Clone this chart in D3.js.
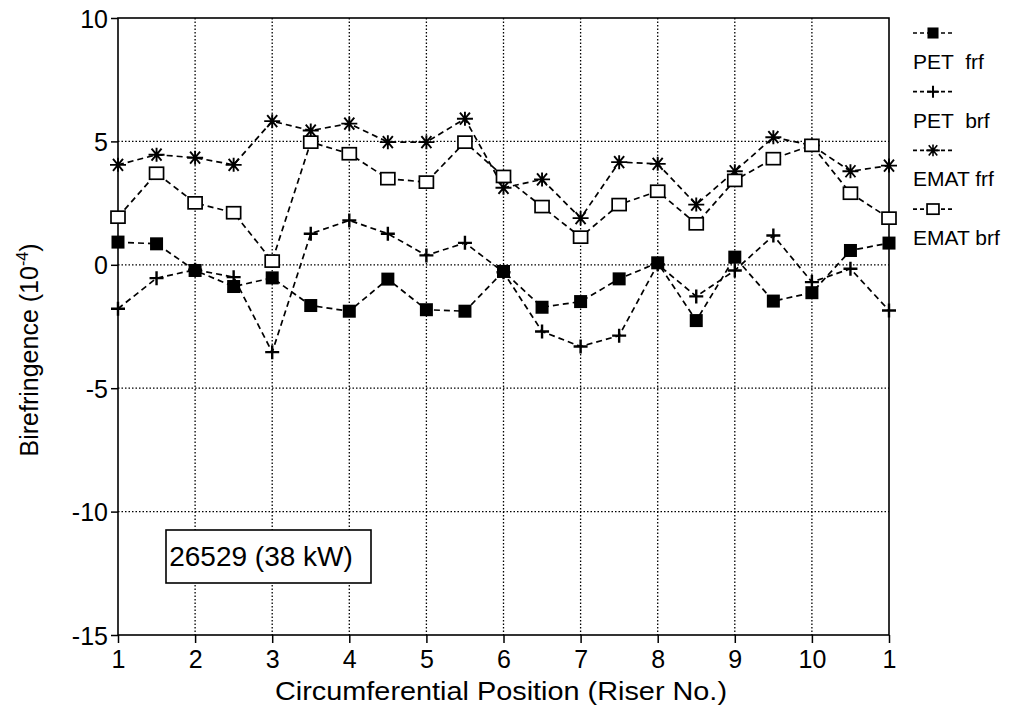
<!DOCTYPE html>
<html>
<head>
<meta charset="utf-8">
<script src="https://cdn.jsdelivr.net/npm/d3@7"></script>
<style>
  body { margin: 0; background: #fff; }
  text { font-family: "Liberation Sans", Arial, sans-serif; fill: #000; }
</style>
</head>
<body>
<script>
// positions go round the ring: 1, 1.5, 2 ... 10, 10.5, back to 1
var positions = [1, 1.5, 2, 2.5, 3, 3.5, 4, 4.5, 5, 5.5, 6, 6.5, 7, 7.5, 8, 8.5, 9, 9.5, 10, 10.5, 11];
var xTickLabels = ["1", "2", "3", "4", "5", "6", "7", "8", "9", "10", "1"];
var yTicks = [-15, -10, -5, 0, 5, 10];

var petFrf  = [0.92, 0.85, -0.23, -0.88, -0.53, -1.65, -1.88, -0.58, -1.82, -1.88, -0.27, -1.72, -1.49, -0.57, 0.08, -2.26, 0.31, -1.47, -1.13, 0.58, 0.88];
var petBrf  = [-1.78, -0.54, -0.2, -0.5, -3.54, 1.26, 1.80, 1.26, 0.38, 0.89, -0.3, -2.70, -3.31, -2.87, 0.02, -1.28, -0.23, 1.19, -0.7, -0.16, -1.85];
var ematFrf = [4.05, 4.46, 4.34, 4.05, 5.82, 5.44, 5.72, 4.97, 4.97, 5.92, 3.12, 3.46, 1.89, 4.16, 4.09, 2.44, 3.79, 5.17, 4.84, 3.79, 4.02];
var ematBrf = [1.93, 3.71, 2.51, 2.11, 0.15, 4.97, 4.5, 3.49, 3.35, 4.97, 3.58, 2.36, 1.12, 2.44, 2.98, 1.66, 3.42, 4.30, 4.84, 2.9, 1.89];

var seriesNames = ["PET  frf", "PET  brf", "EMAT frf", "EMAT brf"];
var seriesMarks = ["fsquare", "plus", "star", "osquare"];

var series = [petFrf, petBrf, ematFrf, ematBrf].map(function (vals, k) {
    return { name: seriesNames[k], mark: seriesMarks[k], values: vals };
});

var svg = d3.select("body").append("svg")
    .attr("width", 1010).attr("height", 715);

var x = d3.scaleLinear().domain([1, 11]).range([118, 889]);
var y = d3.scaleLinear().domain([-15, 10]).range([635, 18]);

// grid
var grid = svg.append("g");
grid.selectAll("line.vg")
    .data(d3.range(2, 11))
    .enter().append("line")
    .attr("x1", function (d) { return x(d); }).attr("x2", function (d) { return x(d); })
    .attr("y1", y(10)).attr("y2", y(-15))
    .attr("stroke", "#000").attr("stroke-width", 1.3)
    .attr("stroke-dasharray", "1.5,2");
grid.selectAll("line.hg")
    .data([-10, -5, 0, 5])
    .enter().append("line")
    .attr("x1", x(1)).attr("x2", x(11))
    .attr("y1", function (d) { return y(d); }).attr("y2", function (d) { return y(d); })
    .attr("stroke", "#000").attr("stroke-width", 1.3)
    .attr("stroke-dasharray", "1.5,2");

// frame
svg.append("rect")
    .attr("x", x(1)).attr("y", y(10))
    .attr("width", x(11) - x(1)).attr("height", y(-15) - y(10))
    .attr("fill", "none").attr("stroke", "#000").attr("stroke-width", 1.6);

// axes
var yAxis = d3.axisLeft(y).tickValues(yTicks).tickSize(7).tickPadding(3)
    .tickFormat(function (d) { return String(d); });
var gy = svg.append("g").attr("transform", "translate(" + x(1) + ",0)").call(yAxis);
gy.select(".domain").remove();
gy.selectAll("text").style("font-size", "25px").attr("dy", "0.36em");
gy.selectAll("line").attr("stroke-width", 1.5);

var xAxis = d3.axisBottom(x).tickValues(d3.range(1, 12)).tickSize(8).tickPadding(7)
    .tickFormat(function (d, i) { return xTickLabels[i]; });
var gx = svg.append("g").attr("transform", "translate(0," + y(-15) + ")").call(xAxis);
gx.select(".domain").remove();
gx.selectAll("text").style("font-size", "25px");
gx.selectAll("line").attr("stroke-width", 1.5);

// titles
svg.append("text")
    .attr("x", 501).attr("y", 700)
    .attr("text-anchor", "middle").style("font-size", "25px")
    .attr("textLength", 452).attr("lengthAdjust", "spacingAndGlyphs")
    .text("Circumferential Position (Riser No.)");

var yt = svg.append("text")
    .attr("transform", "translate(38,350) rotate(-90)")
    .attr("text-anchor", "middle").style("font-size", "25px");
yt.append("tspan").text("Birefringence (10");
yt.append("tspan").attr("dy", -10).style("font-size", "16px").text("-4");
yt.append("tspan").attr("dy", 10).text(")");

// markers
function drawMark(g, type, sc) {
    sc = sc || 1;
    if (type === "fsquare") {
        g.append("rect").attr("x", -6.5 * sc).attr("y", -6.5 * sc).attr("width", 13 * sc).attr("height", 13 * sc).attr("fill", "#000");
    } else if (type === "osquare") {
        g.append("rect").attr("x", -7 * sc).attr("y", -6 * sc).attr("width", 14 * sc).attr("height", 12 * sc)
            .attr("fill", "#fff").attr("stroke", "#000").attr("stroke-width", 1.7);
    } else if (type === "plus") {
        g.append("path").attr("d", "M-7,0H7M0,-7V7").attr("transform", "scale(" + sc + ")")
            .attr("stroke", "#000").attr("stroke-width", 2.4);
    } else if (type === "star") {
        g.append("path").attr("d", "M-8,0H8M-5,-6L5,6M-5,6L5,-6M0,-7V7").attr("transform", "scale(" + sc + ")")
            .attr("stroke", "#000").attr("stroke-width", 1.9);
    }
}

var line = d3.line()
    .x(function (d, i) { return x(positions[i]); })
    .y(function (d) { return y(d); });

var sg = svg.selectAll("g.series")
    .data(series)
    .enter().append("g").attr("class", "series");

sg.append("path")
    .attr("d", function (d) { return line(d.values); })
    .attr("fill", "none").attr("stroke", "#000").attr("stroke-width", 1.7)
    .attr("stroke-dasharray", "6,4");

sg.each(function (s) {
    d3.select(this).selectAll("g.pt")
        .data(s.values)
        .enter().append("g")
        .attr("transform", function (d, i) { return "translate(" + x(positions[i]) + "," + y(d) + ")"; })
        .each(function () { drawMark(d3.select(this), s.mark); });
});

// legend
var lg = svg.selectAll("g.leg")
    .data(series)
    .enter().append("g")
    .attr("transform", function (d, i) { return "translate(913," + (33 + i * 58.7) + ")"; });
lg.append("line").attr("x1", 0).attr("x2", 40).attr("y1", 0).attr("y2", 0)
    .attr("stroke", "#000").attr("stroke-width", 1.7).attr("stroke-dasharray", "4,3");
lg.each(function (d) {
    var g = d3.select(this).append("g").attr("transform", "translate(20,0)");
    drawMark(g, d.mark, 0.85);
});
lg.append("text").attr("x", 0).attr("y", 36).style("font-size", "21px")
    .style("white-space", "pre").attr("xml:space", "preserve")
    .text(function (d) { return d.name; });

// run label box
var box = svg.append("g");
box.append("rect").attr("x", 166).attr("y", 530).attr("width", 205).attr("height", 53)
    .attr("fill", "#fff").attr("stroke", "#000").attr("stroke-width", 1.6);
box.append("text").attr("x", 261).attr("y", 566).attr("text-anchor", "middle")
    .style("font-size", "28px").text("26529 (38 kW)");
</script>
</body>
</html>
